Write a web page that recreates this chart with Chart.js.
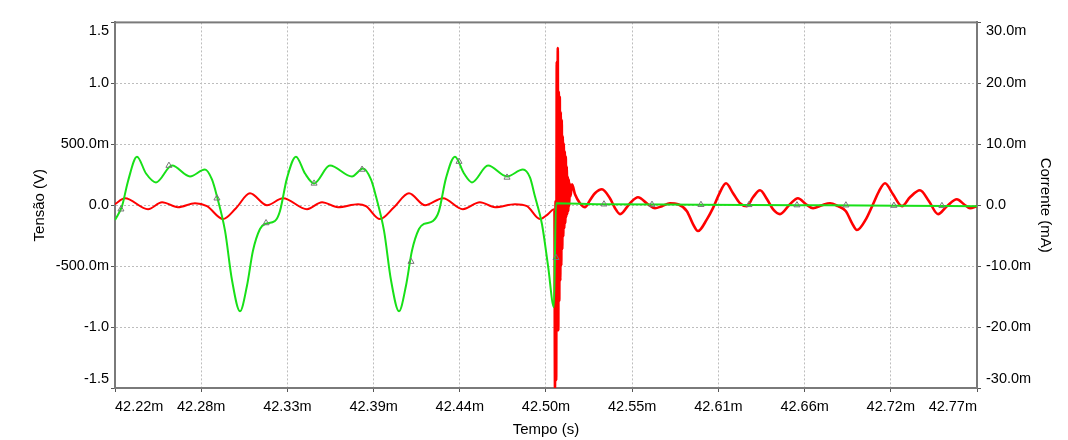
<!DOCTYPE html>
<html>
<head>
<meta charset="utf-8">
<script src="https://cdn.jsdelivr.net/npm/chart.js@4.4.1/dist/chart.umd.min.js"></script>
<style>
  html, body { margin: 0; padding: 0; background: #fff; }
  canvas { display: block; }
</style>
</head>
<body>
<canvas id="chart" width="1068" height="440"></canvas>
<script>
// Tempo em ms, tensão em V, corrente em mA
const timeTicks = [42.22, 42.2753, 42.3306, 42.3859, 42.4412, 42.4965, 42.5518, 42.6071, 42.6624, 42.7177, 42.773];
const timeTickLabels = ['42.22m', '42.28m', '42.33m', '42.39m', '42.44m', '42.50m', '42.55m', '42.61m', '42.66m', '42.72m', '42.77m'];
const voltTicks = [-1.5, -1.0, -0.5, 0, 0.5, 1.0, 1.5];
const voltTickLabels = ['-1.5', '-1.0', '-500.0m', '0.0', '500.0m', '1.0', '1.5'];
const currTicks = [-30, -20, -10, 0, 10, 20, 30];
const currTickLabels = ['-30.0m', '-20.0m', '-10.0m', '0.0', '10.0m', '20.0m', '30.0m'];

const voltTime = [
    42.2200, 42.2245, 42.2283, 42.2341, 42.2399, 42.2463, 42.2566, 42.2681, 42.2777, 42.2822,
    42.2854, 42.2906, 42.2951, 42.3002, 42.3047, 42.3085, 42.3130, 42.3162, 42.3226, 42.3258,
    42.3303, 42.3361, 42.3419, 42.3477, 42.3579, 42.3720, 42.3791, 42.3842, 42.3874, 42.3926,
    42.3971, 42.4022, 42.4067, 42.4105, 42.4150, 42.4182, 42.4240, 42.4278, 42.4323, 42.4381,
    42.4439, 42.4490, 42.4593, 42.4715, 42.4817, 42.4862, 42.4894, 42.4939, 42.4978, 42.5016,
    42.5029, 42.5311, 42.5953, 42.6594, 42.7236, 42.7730
];
const voltage = [
    -0.122, -0.008, 0.195, 0.398, 0.260, 0.187, 0.325, 0.236, 0.293, 0.211,
    0.073, -0.211, -0.618, -0.870, -0.659, -0.374, -0.195, -0.154, -0.130, -0.049,
    0.220, 0.398, 0.260, 0.179, 0.325, 0.236, 0.301, 0.211, 0.073, -0.211,
    -0.618, -0.870, -0.659, -0.374, -0.195, -0.154, -0.130, -0.049, 0.220, 0.398,
    0.260, 0.187, 0.325, 0.236, 0.293, 0.228, 0.073, -0.154, -0.496, -0.837,
    0.016, 0.008, 0.004, 0.000, -0.004, -0.008
];

const markerTime = [
    42.2238, 42.2546, 42.2854, 42.3169, 42.3477, 42.3785, 42.4099, 42.4407, 42.4715,
    42.5029, 42.5337, 42.5645, 42.5959, 42.6267, 42.6575, 42.6889, 42.7197, 42.7505
];
const markerVolt = [
    -0.033, 0.325, 0.057, -0.146, 0.179, 0.293, -0.463, 0.358, 0.228,
    -0.431, 0.008, 0.005, 0.004, 0.003, 0.001, 0.000, -0.003, -0.005
];

const currTime = [
    // antes da falta
    42.2200, 42.2264, 42.2412, 42.2502, 42.2604, 42.2713, 42.2790, 42.2893, 42.2976, 42.3066,
    42.3175, 42.3278, 42.3432, 42.3528, 42.3631, 42.3759, 42.3810, 42.3900, 42.3990, 42.4086,
    42.4189, 42.4304, 42.4432, 42.4541, 42.4638, 42.4766, 42.4843, 42.4926, 42.4978, 42.5016,
    // oscilação da falta
    42.50194, 42.50226, 42.50264, 42.50303, 42.50341, 42.50374, 42.50406, 42.50438, 42.50470, 42.50502,
    42.50534, 42.50566, 42.50598, 42.50630, 42.50662, 42.50694, 42.50726, 42.50758, 42.50790, 42.50822,
    42.50855, 42.50887, 42.50919, 42.50951, 42.50983, 42.51015, 42.51047, 42.51079, 42.51111, 42.51143,
    42.51175, 42.51220,
    // depois da falta
    42.5132, 42.5151, 42.5183, 42.5215, 42.5247, 42.5279, 42.5324, 42.5375, 42.5408, 42.5440,
    42.5504, 42.5555, 42.5619, 42.5664, 42.5709, 42.5760, 42.5812, 42.5869, 42.5908, 42.5940,
    42.5998, 42.6036, 42.6075, 42.6120, 42.6165, 42.6209, 42.6254, 42.6293, 42.6338, 42.6383,
    42.6421, 42.6466, 42.6530, 42.6581, 42.6633, 42.6678, 42.6735, 42.6787, 42.6838, 42.6889,
    42.6928, 42.6960, 42.7018, 42.7063, 42.7101, 42.7140, 42.7191, 42.7249, 42.7300, 42.7364,
    42.7422, 42.7480, 42.7537, 42.7601, 42.7646, 42.7685, 42.7730
];
const current = [
    0.16, 1.14, -0.65, 0.49, -0.33, 0.33, -0.16, -2.28, -0.49, 1.96,
    0.00, 1.14, -0.65, 0.49, -0.33, 0.16, -0.16, -2.28, -0.33, 1.96,
    0.00, 1.14, -0.65, 0.49, -0.33, 0.16, -0.16, -2.28, -1.47, -0.65,

    -0.65, -30.0, 0.65, -28.7, 23.5, -20.5, 25.8, -20.5, 18.6, -15.7,
    17.8, -12.4, 15.3, -9.9, 14.0, -7.2, 11.3, -5.1, 10.1, -3.75,
    8.8, -2.9, 8.0, -1.96, 6.4, -1.47, 4.7, -0.98, 4.2, -0.16,
    3.6, 1.47,

    3.42, 1.79, 0.33, -0.33, 0.82, 1.96, 2.61, 1.14, -0.49, -1.47,
    0.33, 1.30, 0.16, -0.49, -0.16, 0.33, 0.16, -0.98, -3.10, -4.24,
    -2.28, -0.49, 1.79, 3.59, 1.96, 0.33, -0.16, 1.30, 2.45, 0.98,
    -0.65, -1.47, 0.16, 1.14, 0.16, -0.49, 0.00, 0.33, -0.16, -0.98,
    -2.93, -4.08, -2.28, 0.16, 2.28, 3.59, 1.79, -0.16, 1.30, 2.45,
    0.65, -1.47, -0.16, 0.98, 0.16, -0.49, -0.16
];

const faultStart = 42.5019;

const pts = (xs, ys) => xs.map((x, i) => ({ x, y: ys[i] }));
// os rótulos das pontas do eixo vertical ficam dentro da moldura
const edgeLabel = (labels, i) => i === labels.length - 1 ? ['', labels[i]] : i === 0 ? [labels[i], ''] : labels[i];

const font = { family: 'Arial, "Liberation Sans", sans-serif', size: 14.5 };
const titleFont = { family: 'Arial, "Liberation Sans", sans-serif', size: 15 };
const axisGray = '#7a7a7a';

const frame = {
    id: 'frame',
    beforeDatasetsDraw(chart) {
        const { ctx, chartArea: a } = chart;
        ctx.save();
        ctx.strokeStyle = axisGray;
        ctx.lineWidth = 2;
        ctx.strokeRect(a.left, a.top, a.right - a.left, a.bottom - a.top);
        ctx.restore();
    }
};

new Chart(document.getElementById('chart'), {
    type: 'line',
    data: {
        datasets: [
            {
                label: 'marcadores',
                data: pts(markerTime, markerVolt),
                yAxisID: 'y',
                showLine: false,
                pointStyle: 'triangle',
                pointRadius: 3.5,
                pointBorderWidth: 1,
                pointBorderColor: '#777',
                pointBackgroundColor: 'rgba(0,0,0,0)'
            },
            {
                label: 'Tensão',
                data: pts(voltTime, voltage),
                yAxisID: 'y',
                borderColor: '#18e018',
                borderWidth: 2,
                pointRadius: 0,
                cubicInterpolationMode: 'monotone'
            },
            {
                label: 'Corrente',
                data: pts(currTime, current),
                yAxisID: 'y1',
                borderColor: '#ff0000',
                borderWidth: 2,
                pointRadius: 0,
                cubicInterpolationMode: 'monotone',
                // após a falta o traço tem ondulação fina, fica mais grosso
                segment: { borderWidth: c => c.p0.parsed.x >= faultStart ? 2.6 : 2 }
            }
        ]
    },
    options: {
        responsive: false,
        animation: false,
        layout: { padding: { top: 20 } },
        plugins: { legend: { display: false }, tooltip: { enabled: false } },
        scales: {
            x: {
                type: 'linear',
                min: 42.22,
                max: 42.773,
                afterBuildTicks: s => { s.ticks = timeTicks.map(value => ({ value })); },
                afterFit: s => { s.height = 52; },
                ticks: { align: 'inner', padding: 6, color: '#000', font, maxRotation: 0, callback: (v, i) => timeTickLabels[i] },
                grid: { color: '#bdbdbd', tickColor: '#555', tickLength: 4 },
                border: { color: axisGray, width: 2, dash: [2, 2] },
                title: { display: true, text: 'Tempo (s)', color: '#000', font: titleFont, padding: { top: 0, bottom: 1 } }
            },
            y: {
                position: 'left',
                min: -1.5,
                max: 1.5,
                afterBuildTicks: s => { s.ticks = voltTicks.map(value => ({ value })); },
                afterFit: s => { s.width = 115; },
                ticks: { padding: 2, color: '#000', font, callback: (v, i) => edgeLabel(voltTickLabels, i) },
                grid: { color: '#bdbdbd', tickColor: '#555', tickLength: 4 },
                border: { color: axisGray, width: 2, dash: [2, 2] },
                title: { display: true, text: 'Tensão (V)', color: '#000', font: titleFont, padding: { top: 31, bottom: 0 } }
            },
            y1: {
                position: 'right',
                min: -30,
                max: 30,
                afterBuildTicks: s => { s.ticks = currTicks.map(value => ({ value })); },
                afterFit: s => { s.width = 91; },
                ticks: { padding: 5, color: '#000', font, callback: (v, i) => edgeLabel(currTickLabels, i) },
                grid: { drawOnChartArea: false, tickColor: '#555', tickLength: 4 },
                border: { color: axisGray, width: 2 },
                title: { display: true, text: 'Corrente (mA)', color: '#000', font: titleFont, padding: { top: 14, bottom: 0 } }
            }
        }
    },
    plugins: [frame]
});
</script>
</body>
</html>
